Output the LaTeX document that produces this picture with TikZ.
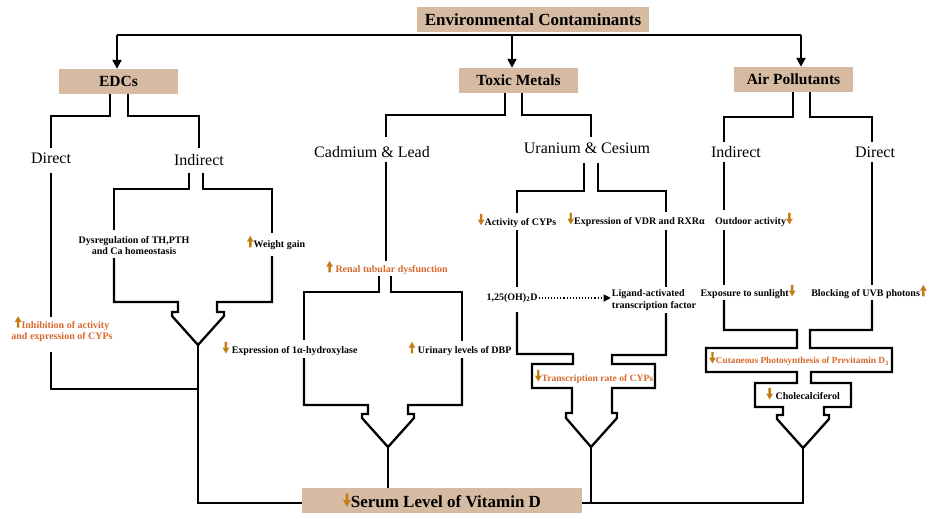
\documentclass[tikz,border=0pt]{standalone}
\usepackage{fontspec}
\setmainfont{Liberation Serif}
\usetikzlibrary{arrows.meta}
\definecolor{tanbox}{RGB}{214,187,162}
\definecolor{orng}{RGB}{214,105,45}
\definecolor{arrc}{RGB}{196,125,20}
\newcommand\uar[1][1]{\tikz[x=#1pt,y=#1pt,baseline=-0.5pt]\fill[arrc] (-1.2,0)--(-1.2,6)--(-3.4,5.6)--(0,11.5)--(3.4,5.6)--(1.2,6)--(1.2,0)--cycle;}
\newcommand\dar[1][1]{\tikz[x=#1pt,y=#1pt,baseline=-0.5pt]\fill[arrc] (-1.2,11.5)--(-1.2,5.5)--(-3.4,5.9)--(0,0)--(3.4,5.9)--(1.2,5.5)--(1.2,11.5)--cycle;}
\tikzset{
  box/.style={fill=tanbox, inner sep=0pt, minimum height=25pt, font=\bfseries\fontsize{15.5}{18}\selectfont},
  big/.style={font=\fontsize{16}{18}\selectfont, inner sep=1pt},
  lbl/.style={font=\bfseries\fontsize{10}{11.5}\selectfont, align=center, inner sep=1pt},
  ln/.style={line width=2.3pt, line join=miter, line cap=butt},
  stem/.style={line width=1.7pt},
  arr/.style={line width=2.3pt, -{Triangle[length=9pt,width=9pt]}}
}
\begin{document}
\begin{tikzpicture}[x=1pt,y=-1pt]
\useasboundingbox (0,0) rectangle (940,519);

% ---- boxes ----
\node[box, minimum width=232pt, font=\bfseries\fontsize{17}{20}\selectfont] (env) at (533,19.5) {Environmental Contaminants};
\node[box, minimum width=119pt] (edcs) at (118.5,81.5) {EDCs};
\node[box, minimum width=119pt] (tm) at (518.5,80.5) {Toxic Metals};
\node[box, minimum width=119pt] (air) at (793.5,79.5) {Air Pollutants};
\node[box, minimum width=280pt, font=\bfseries\fontsize{17}{20}\selectfont] (serum) at (442,500.5) {\dar[1.15]Serum Level of Vitamin D};

% ---- labels ----
\node[big] (direct1) at (51,158) {Direct};
\node[big] (indir1) at (199,160) {Indirect};
\node[lbl, text=orng] (inhib) at (62,329) {\uar Inhibition of activity\\and expression of CYPs};
\node[lbl] (dysreg) at (134,245.5) {Dysregulation of TH,PTH\\and Ca homeostasis};
\node[lbl] (wg) at (276,243) {\uar Weight gain};
\node[big] (cad) at (372,152) {Cadmium \& Lead};
\node[big] (ura) at (587,148) {Uranium \& Cesium};
\node[lbl, text=orng] (renal) at (387,268) {\uar\ Renal tubular dysfunction};
\node[lbl] (onealpha) at (290,349) {\dar\ Expression of 1α-hydroxylase};
\node[lbl] (dbp) at (460,349) {\uar\ Urinary levels of DBP};
\node[lbl] (acyp) at (517,221) {\dar Activity of CYPs};
\node[lbl] (vdr) at (636,220) {\dar Expression of VDR and RXRα};
\node[lbl] (ohd) at (512,298) {1,25(OH)\textsubscript{2}D};
\node[lbl, align=left] (lig) at (654,300) {Ligand-activated\\transcription factor};
\node[lbl, text=orng, font=\bfseries\fontsize{9.6}{11}\selectfont] (tcyp) at (594,377) {\dar Transcription rate of CYPs};
\node[big] (indir2) at (736,152) {Indirect};
\node[big] (direct2) at (875,152) {Direct};
\node[lbl] (outd) at (754,220) {Outdoor activity\dar};
\node[lbl] (expo) at (748,292) {Exposure to sunlight\dar};
\node[lbl] (blk) at (869,292) {Blocking of UVB photons\uar};
\node[lbl, text=orng, font=\bfseries\fontsize{9.3}{11}\selectfont] (cut) at (799,359) {\dar Cutaneous Photosynthesis of Previtamin D\textsubscript{3}};
\node[lbl] (chol) at (803,394) {\dar\ Cholecalciferol};

% ---- top distribution ----
\coordinate (xa) at (117,0);
\coordinate (xb) at (512,0);
\coordinate (xc) at (801,0);
\draw[ln] (117,35) -- (801,35);
\draw[arr] (117,35) -- (edcs.north -| xa);
\draw[arr] (512,35) -- (tm.north -| xb);
\draw[arr] (801,35) -- (air.north -| xc);

% ---- EDCs branch ----
\draw[ln] (110,94) -- (110,116) -- (51,116) -- (51,148);
\draw[ln] (128,94) -- (128,116) -- (199,116) -- (199,148);
\draw[ln] (51,173) -- (51,317);
\draw[ln] (51,352) -- (51,389) -- (198,389);
\draw[ln] (189,173) -- (189,189) -- (114,189) -- (114,230);
\draw[ln] (203,173) -- (203,189) -- (272,189) -- (272,233);
\draw[ln] (114,258) -- (114,302) -- (178,302) -- (178,312) -- (172,312) -- (172,316) -- (198,345)
  -- (224,316) -- (224,312) -- (217,312) -- (217,302) -- (272,302) -- (272,256);
\draw[stem] (198,345) -- (198,503) -- (serum.west |- 0,503);

% ---- Toxic metals branch ----
\draw[ln] (505,93) -- (505,115) -- (386,115) -- (386,137);
\draw[ln] (522,93) -- (522,115) -- (591,115) -- (591,137);
\draw[ln] (386,162) -- (386,261);
\draw[ln] (379,276) -- (379,292) -- (304,292) -- (304,340);
\draw[ln] (391,276) -- (391,292) -- (462,292) -- (462,341);
\draw[ln] (304,358) -- (304,405) -- (368,405) -- (368,414) -- (362,414) -- (362,418) -- (388,447)
  -- (414,418) -- (414,414) -- (408,414) -- (408,405) -- (462,405) -- (462,358);
\draw[stem] (388,447) -- (serum.north -| 388,0);

% Uranium & Cesium
\draw[ln] (584,163) -- (584,191) -- (517,191) -- (517,213);
\draw[ln] (598,163) -- (598,191) -- (666,191) -- (666,212);
\draw[ln] (517,230) -- (517,287);
\draw[ln] (666,230) -- (666,287);
\draw[ln] (517,312) -- (517,354) -- (573,354) -- (573,364) -- (532,364) -- (532,388) -- (572,388)
  -- (572,413) -- (566,413) -- (566,418) -- (591,447)
  -- (617,418) -- (617,413) -- (612,413) -- (612,388) -- (655,388) -- (655,364) -- (612,364)
  -- (612,355) -- (666,355) -- (666,313);
\draw[dotted, line width=1.1pt, -{Triangle[length=7pt,width=7pt]}] (ohd.east) -- (lig.west |- ohd.east);
\draw[stem] (591,447) -- (591,503);

% ---- Air pollutants branch ----
\draw[ln] (793,92) -- (793,117) -- (724,117) -- (724,142);
\draw[ln] (810,92) -- (810,117) -- (872,117) -- (872,142);
\draw[ln] (724,162) -- (724,210);
\draw[ln] (724,230) -- (724,285);
\draw[ln] (872,162) -- (872,285);
\draw[ln] (724,300) -- (724,330) -- (797,330) -- (797,348) -- (706,348) -- (706,372) -- (797,372)
  -- (797,383) -- (755,383) -- (755,407) -- (783,407) -- (783,415) -- (777,415) -- (777,419) -- (803,448)
  -- (829,419) -- (829,415) -- (824,415) -- (824,407) -- (851,407) -- (851,383) -- (811,383)
  -- (811,372) -- (892,372) -- (892,348) -- (810,348) -- (810,330) -- (872,330) -- (872,300);
\draw[stem] (803,448) -- (803,503) -- (serum.east |- 0,503);
\end{tikzpicture}
\end{document}
